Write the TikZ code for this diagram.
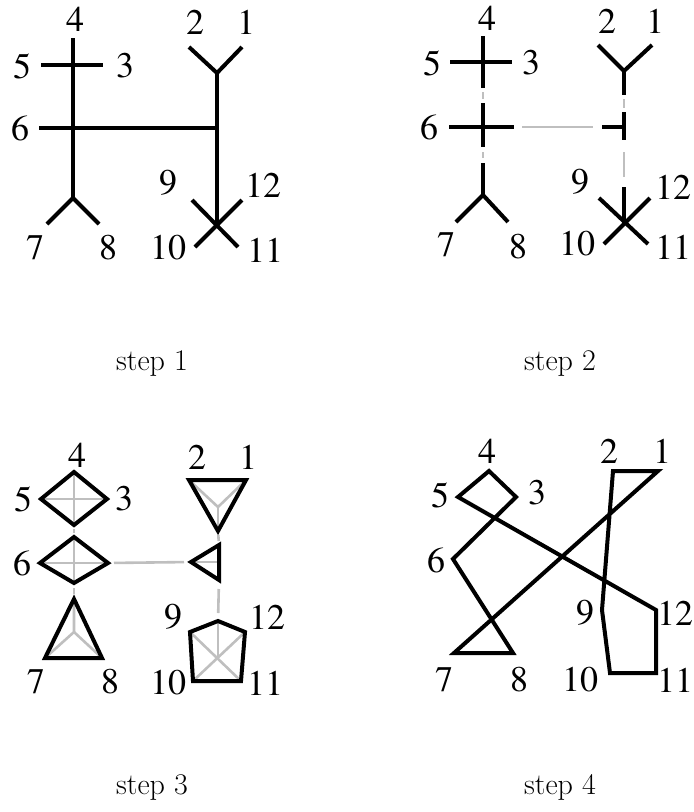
\documentclass[tikz,border=0pt]{standalone}
\usepackage{fontspec}
\newfontfamily\labelfont{TeX Gyre Termes}

\begin{document}
\begin{tikzpicture}[x=1pt, y=-1pt,
    lbl/.style={inner sep=0pt, font=\fontsize{36}{40}\labelfont},
    edge/.style={line width=4pt},
    faint/.style={line width=2.6pt, black!25},
    steplabel/.style={inner sep=0pt, font=\fontsize{30}{36}\selectfont}
]
    \useasboundingbox (0,0) rectangle (694,812);

    % step 1
    \coordinate (a4) at (73,38);
    \coordinate (a5) at (41,65);
    \coordinate (a3) at (103,65);
    \coordinate (a6) at (39,128);
    \coordinate (aR) at (217,128);
    \coordinate (aY) at (73,198);
    \coordinate (a7) at (47,224);
    \coordinate (a8) at (99,224);
    \coordinate (a2) at (189,47);
    \coordinate (a1) at (242,47);
    \coordinate (aV) at (217,73);
    \coordinate (aX) at (217,226);
    \coordinate (a9) at (192,200);
    \coordinate (a12) at (242,200);
    \coordinate (a10) at (195,247);
    \coordinate (a11) at (238,247);

    \draw[edge] (a4) -- (aY);
    \draw[edge] (a5) -- (a3);
    \draw[edge] (a6) -- (aR);
    \draw[edge] (a7) -- (aY) -- (a8);
    \draw[edge] (a2) -- (aV) -- (a1);
    \draw[edge] (aV) -- (aX);
    \draw[edge] (a9) -- (a11);
    \draw[edge] (a12) -- (a10);

    \node[lbl] (la4) at (75,19) {4};
    \node[lbl] (la5) at (22,66) {5};
    \node[lbl] (la3) at (125,66) {3};
    \node[lbl] (la6) at (20,128) {6};
    \node[lbl] (la2) at (195,22) {2};
    \node[lbl] (la1) at (246,22) {1};
    \node[lbl] (la9) at (168,183) {9};
    \node[lbl] (la12) at (263,185) {12};
    \node[lbl] (la10) at (168,248) {10};
    \node[lbl] (la11) at (265,250) {11};
    \node[lbl] (la7) at (35,248) {7};
    \node[lbl] (la8) at (108,248) {8};
    \node[steplabel] (s1) at (152,364) {step 1};

    % step 2
    \coordinate (b4) at (483,36);
    \coordinate (b5) at (450,62);
    \coordinate (b3) at (512,62);
    \coordinate (b45) at (483,88);
    \coordinate (b6t) at (483,103);
    \coordinate (b6b) at (483,147);
    \coordinate (b6) at (449,127);
    \coordinate (b6r) at (514,127);
    \coordinate (b78t) at (483,163);
    \coordinate (bY) at (483,195);
    \coordinate (b7) at (456,222);
    \coordinate (b8) at (508,222);
    \coordinate (b2) at (598,45);
    \coordinate (b1) at (652,45);
    \coordinate (bV) at (624,71);
    \coordinate (bVb) at (624,95);
    \coordinate (bTt) at (624,112);
    \coordinate (bTb) at (624,140);
    \coordinate (bTl) at (602,127);
    \coordinate (bT) at (624,127);
    \coordinate (bXt) at (624,187);
    \coordinate (bX) at (624,223);
    \coordinate (b9) at (599,198);
    \coordinate (b12) at (650,198);
    \coordinate (b10) at (604,244);
    \coordinate (b11) at (648,244);

    \draw[faint, shorten >=4pt, shorten <=4pt] (b45) -- (b6t);
    \draw[faint, shorten >=5pt, shorten <=5pt] (b6b) -- (b78t);
    \draw[faint, shorten >=9pt, shorten <=8pt] (b6r) -- (bTl);
    \draw[faint, shorten >=4pt, shorten <=4pt] (bVb) -- (bTt);
    \draw[faint, shorten >=10pt, shorten <=12pt] (bTb) -- (bXt);

    \draw[edge] (b4) -- (b45);
    \draw[edge] (b5) -- (b3);
    \draw[edge] (b6t) -- (b6b);
    \draw[edge] (b6) -- (b6r);
    \draw[edge] (b78t) -- (bY);
    \draw[edge] (b7) -- (bY) -- (b8);
    \draw[edge] (b2) -- (bV) -- (b1);
    \draw[edge] (bV) -- (bVb);
    \draw[edge] (bTt) -- (bTb);
    \draw[edge] (bTl) -- (bT);
    \draw[edge] (bXt) -- (bX);
    \draw[edge] (b9) -- (b11);
    \draw[edge] (b12) -- (b10);

    \node[lbl] (lb4) at (487,18) {4};
    \node[lbl] (lb5) at (432,63) {5};
    \node[lbl] (lb3) at (531,63) {3};
    \node[lbl] (lb6) at (429,127) {6};
    \node[lbl] (lb2) at (607,21) {2};
    \node[lbl] (lb1) at (655,21) {1};
    \node[lbl] (lb9) at (580,182) {9};
    \node[lbl] (lb12) at (673,187) {12};
    \node[lbl] (lb10) at (577,244) {10};
    \node[lbl] (lb11) at (673,247) {11};
    \node[lbl] (lb7) at (446,245) {7};
    \node[lbl] (lb8) at (518,247) {8};
    \node[steplabel] (s2) at (560,364) {step 2};

    % step 3
    \coordinate (c4) at (74,472);
    \coordinate (c5) at (41,499);
    \coordinate (c3) at (107,499);
    \coordinate (c45) at (74,525);
    \coordinate (c6t) at (74,537);
    \coordinate (c6) at (40,563);
    \coordinate (c6r) at (108,563);
    \coordinate (c6b) at (74,583);
    \coordinate (c78t) at (74,599);
    \coordinate (c7) at (45,658);
    \coordinate (c8) at (102,658);
    \coordinate (c78o) at (74,632);
    \coordinate (c2) at (189,480);
    \coordinate (c1) at (246,480);
    \coordinate (c21b) at (218,531);
    \coordinate (c21o) at (218,507);
    \coordinate (cTl) at (191,562);
    \coordinate (cTt) at (219,545);
    \coordinate (cTb) at (219,580);
    \coordinate (cTr) at (219,562);
    \coordinate (cPt) at (218,621);
    \coordinate (c9) at (190,632);
    \coordinate (c12) at (245,632);
    \coordinate (c10) at (193,681);
    \coordinate (c11) at (241,681);
    \coordinate (cPo) at (218,658);

    \draw[faint] (c4) -- (c45);
    \draw[faint] (c5) -- (c3);
    \draw[faint] (c6t) -- (c6b);
    \draw[faint] (c6) -- (c6r);
    \draw[faint] (c78t) -- (c78o) -- (c7);
    \draw[faint] (c78o) -- (c8);
    \draw[faint] (c2) -- (c21o) -- (c1);
    \draw[faint] (c21o) -- (c21b);
    \draw[faint] (cTl) -- (cTr);
    \draw[faint] (cPt) -- (cPo);
    \draw[faint] (c9) -- (c11);
    \draw[faint] (c12) -- (c10);
    \draw[faint, shorten >=4pt, shorten <=4pt] (c45) -- (c6t);
    \draw[faint, shorten >=5pt, shorten <=5pt] (c6b) -- (c78t);
    \draw[faint, shorten >=7pt, shorten <=6pt] (c6r) -- (cTl);
    \draw[faint, shorten >=4pt, shorten <=4pt] (c21b) -- (cTt);
    \draw[faint, shorten >=8pt, shorten <=9pt] (cTb) -- (cPt);

    \draw[edge] (c4) -- (c3) -- (c45) -- (c5) -- cycle;
    \draw[edge] (c6t) -- (c6r) -- (c6b) -- (c6) -- cycle;
    \draw[edge] (c78t) -- (c8) -- (c7) -- cycle;
    \draw[edge] (c2) -- (c1) -- (c21b) -- cycle;
    \draw[edge] (cTl) -- (cTt) -- (cTb) -- cycle;
    \draw[edge] (cPt) -- (c12) -- (c11) -- (c10) -- (c9) -- cycle;

    \node[lbl] (lc4) at (77,455) {4};
    \node[lbl] (lc5) at (23,499) {5};
    \node[lbl] (lc3) at (124,499) {3};
    \node[lbl] (lc6) at (22,563) {6};
    \node[lbl] (lc2) at (197,457) {2};
    \node[lbl] (lc1) at (248,457) {1};
    \node[lbl] (lc9) at (173,617) {9};
    \node[lbl] (lc12) at (267,617) {12};
    \node[lbl] (lc7) at (36,682) {7};
    \node[lbl] (lc8) at (110,682) {8};
    \node[lbl] (lc10) at (168,683) {10};
    \node[lbl] (lc11) at (265,683) {11};
    \node[steplabel] (s3) at (152,787) {step 3};

    % step 4
    \coordinate (d4) at (489,471);
    \coordinate (d5) at (458,497);
    \coordinate (d3) at (516,497);
    \coordinate (d6) at (453,559);
    \coordinate (d7) at (454,653);
    \coordinate (d8) at (513,653);
    \coordinate (d2) at (613,471);
    \coordinate (d1) at (658,471);
    \coordinate (d9) at (602,610);
    \coordinate (d12) at (656,610);
    \coordinate (d10) at (610,673);
    \coordinate (d11) at (656,673);

    \draw[edge] (d1) -- (d2) -- (d9) -- (d10) -- (d11) -- (d12) -- (d5)
        -- (d4) -- (d3) -- (d6) -- (d8) -- (d7) -- cycle;

    \node[lbl] (ld4) at (487,451) {4};
    \node[lbl] (ld5) at (440,495) {5};
    \node[lbl] (ld3) at (537,493) {3};
    \node[lbl] (ld6) at (436,560) {6};
    \node[lbl] (ld2) at (609,451) {2};
    \node[lbl] (ld1) at (662,451) {1};
    \node[lbl] (ld9) at (585,613) {9};
    \node[lbl] (ld12) at (675,613) {12};
    \node[lbl] (ld7) at (444,680) {7};
    \node[lbl] (ld8) at (519,680) {8};
    \node[lbl] (ld10) at (580,680) {10};
    \node[lbl] (ld11) at (675,680) {11};
    \node[steplabel] (s4) at (560,787) {step 4};
\end{tikzpicture}
\end{document}
